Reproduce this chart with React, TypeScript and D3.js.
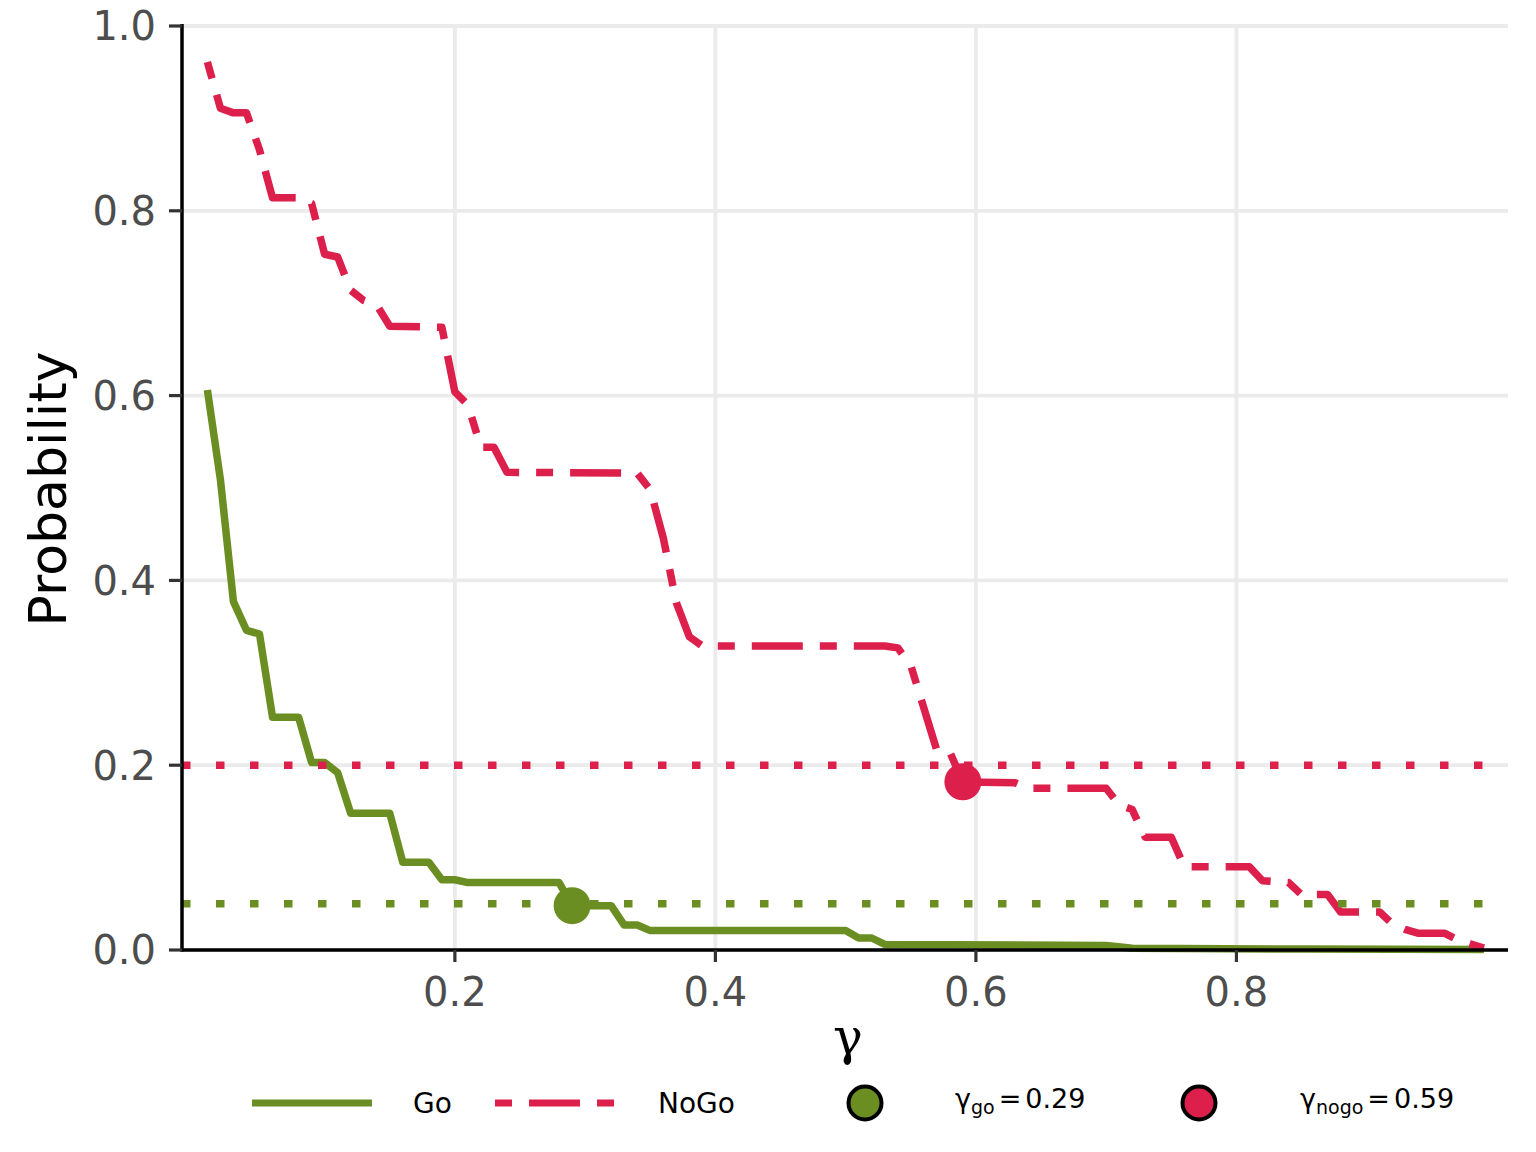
import React from "react";
import * as d3 from "d3";

const goGamma = [0.01,0.02,0.03,0.04,0.05,0.06,0.08,0.09,0.10,0.11,0.12,0.15,0.16,0.18,0.19,0.20,0.21,0.28,0.29,0.32,0.33,0.34,0.35,0.50,0.51,0.52,0.53,0.70,0.72,0.85,0.99];
const goProb = [0.606,0.509,0.377,0.346,0.342,0.252,0.252,0.203,0.203,0.192,0.148,0.148,0.095,0.095,0.076,0.076,0.073,0.073,0.048,0.048,0.027,0.027,0.021,0.021,0.013,0.013,0.006,0.005,0.002,0.001,0.0005];

const nogoGamma = [0.01,0.02,0.03,0.04,0.05,0.06,0.08,0.09,0.10,0.11,0.12,0.13,0.14,0.15,0.19,0.20,0.21,0.22,0.23,0.24,0.34,0.35,0.36,0.37,0.38,0.39,0.53,0.54,0.55,0.56,0.57,0.58,0.59,0.63,0.64,0.70,0.71,0.72,0.73,0.75,0.76,0.81,0.82,0.83,0.84,0.85,0.87,0.88,0.91,0.92,0.93,0.94,0.96,0.97,0.98,0.99];
const nogoProb = [0.961,0.911,0.906,0.906,0.866,0.814,0.814,0.808,0.753,0.750,0.714,0.703,0.698,0.675,0.674,0.604,0.590,0.544,0.544,0.517,0.516,0.498,0.446,0.376,0.339,0.329,0.329,0.327,0.308,0.262,0.216,0.214,0.182,0.181,0.175,0.175,0.157,0.152,0.122,0.122,0.090,0.090,0.075,0.074,0.073,0.060,0.060,0.041,0.041,0.028,0.022,0.018,0.018,0.011,0.0065,0.002];

const thresholds = [0.05, 0.2]; // go, nogo
const optimalGamma = [0.29, 0.59];
const optimalProb = [0.048, 0.182];
const xTicks = [0.2, 0.4, 0.6, 0.8];
const yTicks = [0, 0.2, 0.4, 0.6, 0.8, 1.0];
const legendLabels = ["Go", "NoGo"];
const gammaLabels = [["go", "0.29"], ["nogo", "0.59"]];

const GREEN = "#6B8E23";
const RED = "#DC1F4B";

export default function App() {
  const W = 1536, H = 1152;
  const left = 182, right = 1508, top = 26, bottom = 950;
  const x = d3.scaleLinear().domain([-0.0095, 1.0085]).range([left, right]);
  const y = d3.scaleLinear().domain([0, 1]).range([bottom, top]);
  const line = d3.line<[number, number]>().x(d => x(d[0])).y(d => y(d[1]));
  const goPts = goGamma.map((g, i) => [g, goProb[i]] as [number, number]);
  const nogoPts = nogoGamma.map((g, i) => [g, nogoProb[i]] as [number, number]);
  const font = "DejaVu Sans";
  const colors = [GREEN, RED];

  return (
    <svg width={W} height={H} style={{ position: "absolute", left: 0, top: 0, display: "block", background: "#fff" }} fontFamily={font}>
      <rect x={0} y={0} width={W} height={H} fill="#fff" />
      {/* grid */}
      {yTicks.map(t => (
        <line key={"gy" + t} x1={left} x2={right} y1={y(t)} y2={y(t)} stroke="#EBEBEB" strokeWidth={3.8} />
      ))}
      {xTicks.map(t => (
        <line key={"gx" + t} x1={x(t)} x2={x(t)} y1={top} y2={bottom} stroke="#EBEBEB" strokeWidth={3.8} />
      ))}
      {/* curves */}
      <path d={line(goPts) || ""} fill="none" stroke={GREEN} strokeWidth={7.5} strokeLinejoin="round" strokeLinecap="butt" />
      <path d={line(nogoPts) || ""} fill="none" stroke={RED} strokeWidth={7.5} strokeLinejoin="round" strokeLinecap="butt" strokeDasharray="17 17 51 17" />
      {/* thresholds */}
      {thresholds.map((t, i) => (
        <line key={"th" + i} x1={left} x2={right} y1={y(t)} y2={y(t)} stroke={colors[i]} strokeWidth={7.5} strokeDasharray="8.5 25.5" />
      ))}
      {/* optimal points */}
      {optimalGamma.map((g, i) => (
        <circle key={"pt" + i} cx={x(g)} cy={y(optimalProb[i])} r={18.5} fill={colors[i]} />
      ))}
      {/* axes */}
      <line x1={left} x2={left} y1={top - 2} y2={bottom + 1.5} stroke="#000" strokeWidth={3.5} />
      <line x1={left - 1.5} x2={right} y1={bottom} y2={bottom} stroke="#000" strokeWidth={3.5} />
      {yTicks.map(t => (
        <g key={"yt" + t}>
          <line x1={left - 13} x2={left} y1={y(t)} y2={y(t)} stroke="#333" strokeWidth={3.2} />
          <text x={156} y={y(t)} dy="0.36em" textAnchor="end" fontSize={40} fill="#4D4D4D">{t.toFixed(1)}</text>
        </g>
      ))}
      {xTicks.map(t => (
        <g key={"xt" + t}>
          <line x1={x(t)} x2={x(t)} y1={bottom} y2={bottom + 12} stroke="#333" strokeWidth={3.2} />
          <text x={x(t)} y={1006} textAnchor="middle" fontSize={40} fill="#4D4D4D">{t.toFixed(1)}</text>
        </g>
      ))}
      <text transform="translate(66,489) rotate(-90)" textAnchor="middle" fontSize={52} fill="#000">Probability</text>
      <text x={848} y={1054} textAnchor="middle" fontSize={50} fontFamily="DejaVu Serif" fill="#000">γ</text>
      {/* legend */}
      <line x1={252} x2={372} y1={1103} y2={1103} stroke={GREEN} strokeWidth={7} />
      <text x={413} y={1113} fontSize={28} fill="#000">{legendLabels[0]}</text>
      <line x1={495} x2={615} y1={1103} y2={1103} stroke={RED} strokeWidth={7} strokeDasharray="17 17 51 17" />
      <text x={658} y={1113} fontSize={28} fill="#000">{legendLabels[1]}</text>
      <circle cx={865} cy={1103} r={16.5} fill={GREEN} stroke="#000" strokeWidth={4} />
      <circle cx={1199} cy={1103} r={16.5} fill={RED} stroke="#000" strokeWidth={4} />
      {gammaLabels.map((gl, i) => (
        <text key={"gl" + i} x={i === 0 ? 955 : 1300} y={1108} fontSize={27} fill="#000">
          <tspan>γ</tspan>
          <tspan fontSize={19} dy={6}>{gl[0]}</tspan>
          <tspan dy={-6} dx={4}>=</tspan>
          <tspan dx={4}>{gl[1]}</tspan>
        </text>
      ))}
    </svg>
  );
}
